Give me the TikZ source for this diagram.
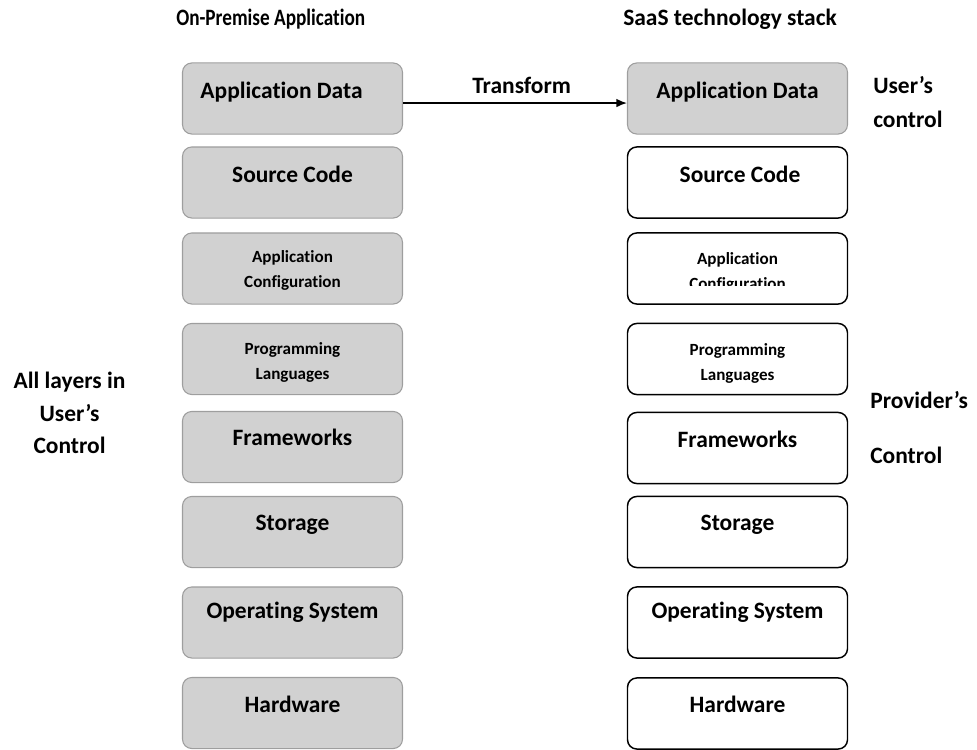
\documentclass[tikz,border=0pt]{standalone}
\usepackage{fontspec}
\setmainfont[Ligatures=NoCommon]{Carlito}
\newfontfamily\condfont[FakeStretch=0.82, Ligatures=NoCommon]{Carlito}
\usetikzlibrary{arrows.meta}
\begin{document}
\begin{tikzpicture}[x=0.75pt,y=-0.75pt,
  layer/.style={rounded corners=7pt, minimum width=165pt, minimum height=53.3pt, inner sep=0pt},
  onprem/.style={layer, draw=black!38, fill=black!18, line width=0.8pt},
  saas/.style={layer, draw=black, fill=white, line width=1.1pt},
  big/.style={font=\bfseries\fontsize{17.6}{21}\selectfont, text height=12.3pt, text depth=3.5pt, inner sep=0pt},
  small/.style={font=\bfseries\fontsize{12.8}{18.8}\selectfont, align=center, inner sep=0pt},
  side/.style={big, anchor=west},
  flow/.style={line width=1.1pt, -{Latex[length=8pt,width=6.5pt]}}]
\useasboundingbox (0,0) rectangle (977,749);

% headers
\node[side, font=\condfont\bfseries\fontsize{17.6}{21}\selectfont] (h1) at (176,20) {On-Premise Application};
\node[side] (h2) at (623,20) {SaaS technology stack};

% left column boxes
\node[onprem] (L1) at (292.5,98.5) {};
\node[onprem] (L2) at (292.5,182.5) {};
\node[onprem] (L3) at (292.5,268.5) {};
\node[onprem] (L4) at (292.5,359) {};
\node[onprem] (L5) at (292.5,447) {};
\node[onprem] (L6) at (292.5,532) {};
\node[onprem] (L7) at (292.5,622.5) {};
\node[onprem] (L8) at (292.5,713) {};

% right column boxes
\node[onprem] (R1) at (737.5,98.5) {};
\node[saas] (R2) at (737.5,182.5) {};
\node[saas] (R3) at (737.5,268.5) {};
\node[saas] (R4) at (737.5,359) {};
\node[saas] (R5) at (737.5,448) {};
\node[saas] (R6) at (737.5,532) {};
\node[saas] (R7) at (737.5,622.5) {};
\node[saas] (R8) at (737.5,713.5) {};

% left texts
\node[big] (tL1) at (281.5,93) {Application Data};
\node[big] (tL2) at (292.5,177) {Source Code};
\node[small] (tL3) at (292.5,270) {Application\\Configuration};
\node[small] (tL4) at (292.5,362) {Programming\\Languages};
\node[big] (tL5) at (292.5,440) {Frameworks};
\node[big] (tL6) at (292.5,525) {Storage};
\node[big] (tL7) at (292.5,613) {Operating System};
\node[big] (tL8) at (292.5,707) {Hardware};

% right texts
\node[big] (tR1) at (737.5,93) {Application Data};
\node[big] (tR2) at (740,177) {Source Code};
\begin{scope}
  \clip (620,230) rectangle (860,285.5);
  \node[small] (tR3) at (737.5,272.5) {Application\\Configuration};
\end{scope}
\node[small] (tR4) at (737.5,363) {Programming\\Languages};
\node[big] (tR5) at (737.5,442) {Frameworks};
\node[big] (tR6) at (737.5,525) {Storage};
\node[big] (tR7) at (737.5,613) {Operating System};
\node[big] (tR8) at (737.5,707) {Hardware};

% transform arrow
\draw[flow] ([yshift=-3.4pt]L1.east) -- node[big, above=3pt, xshift=5pt] (tr) {Transform} ([yshift=-3.4pt]R1.west);

% side labels
\node[side] (u1) at (873,88) {User’s};
\node[side] (u2) at (873,122) {control};
\node[side] (p1) at (870,403) {Provider’s};
\node[side] (p2) at (870,458) {Control};
\node[big] (a1) at (69.5,383) {All layers in};
\node[big] (a2) at (69.5,416) {User’s};
\node[big] (a3) at (69.5,448) {Control};
\end{tikzpicture}
\end{document}
